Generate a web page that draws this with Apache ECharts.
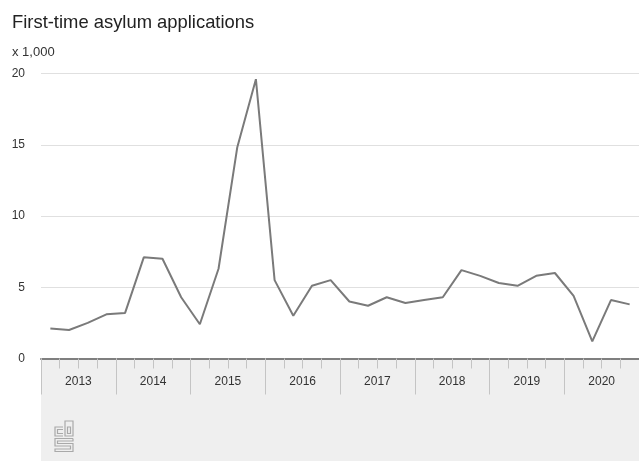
<!DOCTYPE html>
<html>
<head>
<meta charset="utf-8">
<script src="https://cdn.jsdelivr.net/npm/echarts@6/dist/echarts.min.js"></script>
<style>
html,body{margin:0;padding:0;background:#fff;}
#chart{width:639px;height:461px;}
</style>
</head>
<body>
<div id="chart"></div>
<script>
var years = ['2013','2014','2015','2016','2017','2018','2019','2020'];
var quarters = [];
years.forEach(function(y){ ['Q1','Q2','Q3','Q4'].forEach(function(q){ quarters.push(y + ' ' + q); }); });
var applications = [2.1, 2.0, 2.5, 3.1, 3.2, 7.1, 7.0, 4.3,
                    2.4, 6.3, 14.8, 19.6, 5.5, 3.0, 5.1, 5.5,
                    4.0, 3.7, 4.3, 3.9, 4.1, 4.3, 6.2, 5.8,
                    5.3, 5.1, 5.8, 6.0, 4.4, 1.2, 4.1, 3.8];
var yTicks = [0, 5, 10, 15, 20];

var font = 'Arial, "Liberation Sans", sans-serif';
var chart = echarts.init(document.getElementById('chart'));

var gc = '#a9a9a9';
function logo() {
  var s = {stroke: gc, lineWidth: 1.2, fill: null};
  return [
    {type:'polyline', shape:{points:[[63,427],[55,427],[55,436],[63,436]]}, style:s},
    {type:'polyline', shape:{points:[[63,429.5],[57.5,429.5],[57.5,433.5],[63,433.5]]}, style:s},
    {type:'rect', shape:{x:65,y:421,width:8,height:15}, style:s},
    {type:'rect', shape:{x:67.5,y:427,width:3,height:6.5}, style:s},
    {type:'polyline', shape:{points:[[73,438.5],[55,438.5],[55,446],[70.5,446],[70.5,449],[55,449],[55,451.5],[73,451.5],[73,443.5],[57.5,443.5],[57.5,441],[73,441],[73,438.5]]}, style:s}
  ];
}

var option = {
  animation: false,
  backgroundColor: '#ffffff',
  title: [
    {text: 'First-time asylum applications', left: 7, top: 9,
     textStyle: {fontFamily: font, fontSize: 18.4, fontWeight: 'normal', color: '#222'}},
    {text: 'x 1,000', left: 7, top: 41,
     textStyle: {fontFamily: font, fontSize: 13, fontWeight: 'normal', color: '#333'}}
  ],
  graphic: [
    {type:'rect', z: -10, shape:{x:41, y:359, width:600, height:102}, style:{fill:'#efefef'}},
    {type:'group', children: logo()}
  ],
  grid: {left: 41, right: -2, top: 73.5, bottom: 102.5, containLabel: false},
  xAxis: [
    {type:'category', data: quarters, boundaryGap: true, position: 'bottom',
     axisLine: {show: true, lineStyle: {color: '#7f7f7f', width: 2}},
     axisTick: {show: true, interval: 0, length: 10, lineStyle: {color: '#c4c4c4'}},
     axisLabel: {show: false, interval: 0}, splitLine: {show: false}},
    {type:'category', data: years, boundaryGap: true, position: 'bottom',
     axisLine: {show: false},
     axisTick: {show: true, interval: 0, length: 36, lineStyle: {color: '#c4c4c4'}},
     axisLabel: {show: true, interval: 0, margin: 17, fontFamily: font, fontSize: 12, color: '#333'},
     splitLine: {show: false}}
  ],
  yAxis: {
    type: 'value', min: yTicks[0], max: yTicks[yTicks.length-1], interval: 5,
    axisLine: {show: false}, axisTick: {show: false},
    axisLabel: {margin: 16, fontFamily: font, fontSize: 12, color: '#333'},
    splitLine: {lineStyle: {color: '#e0e0e0', width: 1}}
  },
  series: [{
    type: 'line', data: applications, xAxisIndex: 0,
    symbol: 'none', smooth: false,
    lineStyle: {color: '#7a7a7a', width: 2}
  }]
};
chart.setOption(option);
</script>
</body>
</html>
